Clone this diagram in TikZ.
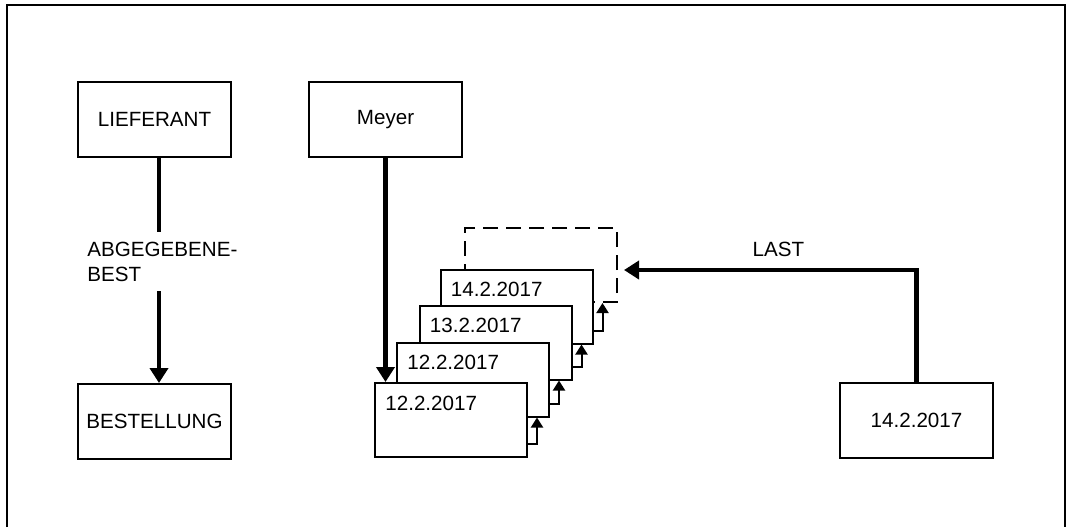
\documentclass[tikz,border=0pt]{standalone}
\usepackage{fontspec}
\setmainfont{Liberation Sans}
\usetikzlibrary{arrows.meta,positioning,calc}
\tikzset{
  flow/.style={-{Triangle[length=7.5pt,width=9pt]},line width=2.3pt},
  conn/.style={line width=2.3pt},
  flowsmall/.style={-{Triangle[length=5pt,width=6pt]},line width=1pt},
  entity/.style={draw,line width=1pt,minimum width=76.5pt,minimum height=37.5pt,
                 inner sep=0pt,font=\fontsize{10.3}{12}\selectfont},
  card/.style={draw,fill=white,line width=1pt,minimum width=76pt,minimum height=37pt,inner sep=0pt},
  carddashed/.style={card,dash pattern=on 7.5pt off 4pt},
  cardtext/.style={anchor=base west,inner sep=0pt,font=\fontsize{10.3}{12}\selectfont},
  reltext/.style={font=\fontsize{10.3}{12.5}\selectfont,align=left,inner xsep=0pt,inner ysep=4.75pt},
  frame/.style={line width=1pt},
}
\begin{document}
\begin{tikzpicture}[x=.5pt,y=-.5pt]
  \useasboundingbox (0,0) rectangle (1068,527);
  \draw[frame] (7,527) -- (7,5) -- (1065,5) -- (1065,527);

  % relationship on the left
  \node[entity] (lieferant) at (154.5,119.5) {LIEFERANT};
  \node[entity] (bestellung) at (154.5,421.5) {BESTELLUNG};
  \node[reltext,anchor=west] (abgbest) at (87,261.5) {ABGEGEBENE-\\BEST};
  \coordinate (relx) at ($(lieferant.south)+(4.5,0)$);
  \draw[conn] (relx) -- (relx |- abgbest.north);
  \draw[flow] (relx |- abgbest.south) -- (relx |- bestellung.north);

  % owner and its chain of members
  \node[entity] (meyer) at (385.5,119.5) {Meyer};
  \node[carddashed] (cardnext) at (541,265) {};
  \node[card] (card4) at (516.5,306.5) {};
  \node[cardtext] (date4) at ($(card4.north west)+(11,28)$) {14.2.2017};
  \node[card] (card3) at (495.5,342.5) {};
  \node[cardtext] (date3) at ($(card3.north west)+(11,28)$) {13.2.2017};
  \node[card] (card2) at (473,379.5) {};
  \node[cardtext] (date2) at ($(card2.north west)+(11,28)$) {12.2.2017};
  \node[card] (card1) at (451,420) {};
  \node[cardtext] (date1) at ($(card1.north west)+(11,28)$) {12.2.2017};

  \draw[flow] (meyer.south) -- (meyer.south |- card1.north);
  \draw[flowsmall] ($(card1.south east)+(0,-14)$) -| ($(card1.east |- card2.south)+(9,0)$);
  \draw[flowsmall] ($(card2.south east)+(0,-14)$) -| ($(card2.east |- card3.south)+(9,0)$);
  \draw[flowsmall] ($(card3.south east)+(0,-14)$) -| ($(card3.east |- card4.south)+(9,0)$);
  \draw[flowsmall] ($(card4.south east)+(0,-14)$) -| ($(card4.east |- cardnext.south)+(9,0)$);

  % last pointer
  \node[entity] (lastdate) at (916.5,420.5) {14.2.2017};
  \draw[flow] (lastdate.north) |- ($(cardnext.east)+(6,5)$)
    node[pos=.736,above=5.5pt,inner sep=0pt,font=\fontsize{10.3}{12}\selectfont] (lastlbl) {LAST};
\end{tikzpicture}
\end{document}
